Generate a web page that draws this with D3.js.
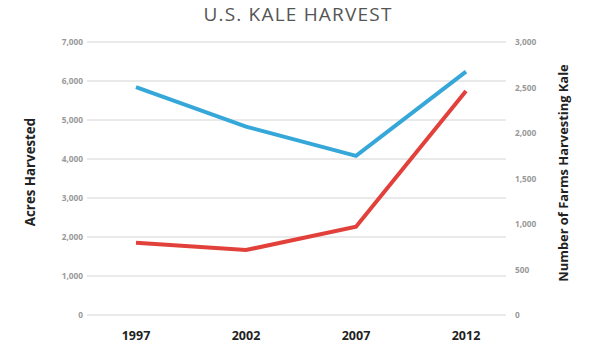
<!DOCTYPE html>
<html>
<head>
<meta charset="utf-8">
<script src="https://cdn.jsdelivr.net/npm/d3@7"></script>
<style>
  body { margin: 0; background: #fff; }
  text { font-family: "Open Sans", "DejaVu Sans", sans-serif; }
</style>
</head>
<body>
<div id="chart"></div>
<script>
// Data
const years = ["1997", "2002", "2007", "2012"];
const acres = [5840, 4830, 4080, 6240];   // blue, left axis
const farms = [794, 714, 970, 2462];      // red, right axis
const leftTicks = [0, 1000, 2000, 3000, 4000, 5000, 6000, 7000];
const rightTicks = [0, 500, 1000, 1500, 2000, 2500, 3000];

const width = 600, height = 352;
const gridLeft = 87, gridRight = 506;
const plotTop = 42, plotBottom = 315;

let svg = d3.select("#chart").append("svg")
  .attr("width", width).attr("height", height);

// Scales
let xScale = d3.scalePoint().domain(years).range([136, 466]);
let yLeft = d3.scaleLinear().domain([0, 7000]).range([plotBottom, plotTop]);
let yRight = d3.scaleLinear().domain([0, 3000]).range([plotBottom, plotTop]);

// Title
svg.append("text")
  .attr("x", 298).attr("y", 21)
  .attr("text-anchor", "middle")
  .attr("font-size", 19)
  .attr("letter-spacing", 1.2)
  .attr("fill", "#555")
  .text("U.S. KALE HARVEST");

// Gridlines
svg.append("g").selectAll("line")
  .data(leftTicks)
  .enter().append("line")
  .attr("x1", gridLeft).attr("x2", gridRight)
  .attr("y1", d => yLeft(d)).attr("y2", d => yLeft(d))
  .attr("stroke", "#d4d4d4")
  .attr("stroke-width", 1);

// Tick labels, wider face to match the reference
let fmt = d3.format(",");
svg.append("g").selectAll("text")
  .data(leftTicks)
  .enter().append("text")
  .attr("x", 83).attr("y", d => yLeft(d) + 3)
  .attr("text-anchor", "end")
  .attr("font-family", "DejaVu Sans")
  .attr("font-size", 8.3)
  .attr("font-weight", 700)
  .attr("fill", "#999")
  .text(d => fmt(d));

svg.append("g").selectAll("text")
  .data(rightTicks)
  .enter().append("text")
  .attr("x", 515).attr("y", d => yRight(d) + 3)
  .attr("text-anchor", "start")
  .attr("font-family", "DejaVu Sans")
  .attr("font-size", 8.3)
  .attr("font-weight", 700)
  .attr("fill", "#999")
  .text(d => fmt(d));

// X axis labels
svg.append("g").selectAll("text")
  .data(years)
  .enter().append("text")
  .attr("x", d => xScale(d)).attr("y", 340)
  .attr("text-anchor", "middle")
  .attr("font-size", 12.5)
  .attr("font-weight", 700)
  .attr("fill", "#222")
  .text(d => d);

// Axis titles
svg.append("text")
  .attr("transform", "translate(35,172) rotate(-90)")
  .attr("text-anchor", "middle")
  .attr("font-size", 13.3)
  .attr("font-weight", 700)
  .attr("fill", "#222")
  .text("Acres Harvested");

svg.append("text")
  .attr("transform", "translate(568,173) rotate(-90)")
  .attr("text-anchor", "middle")
  .attr("font-size", 12.9)
  .attr("font-weight", 700)
  .attr("fill", "#222")
  .text("Number of Farms Harvesting Kale");

// Lines
let acresLine = d3.line()
  .x((d, i) => xScale(years[i]))
  .y(d => yLeft(d));
let farmsLine = d3.line()
  .x((d, i) => xScale(years[i]))
  .y(d => yRight(d));

svg.append("path")
  .datum(acres)
  .attr("d", acresLine)
  .attr("fill", "none")
  .attr("stroke", "#35a7d9")
  .attr("stroke-width", 4);

svg.append("path")
  .datum(farms)
  .attr("d", farmsLine)
  .attr("fill", "none")
  .attr("stroke", "#e1413a")
  .attr("stroke-width", 4);
</script>
</body>
</html>
